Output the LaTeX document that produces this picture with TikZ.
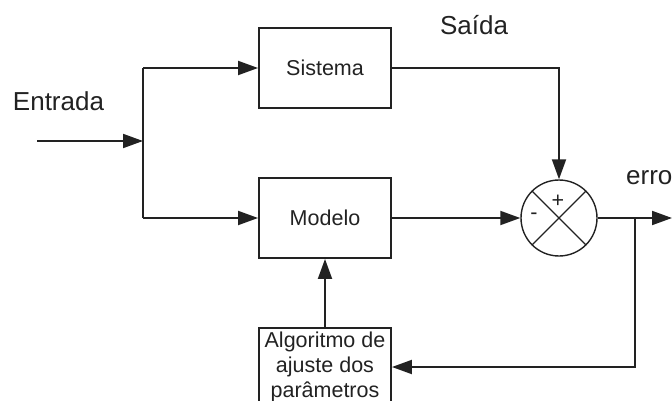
\documentclass[tikz,border=0pt]{standalone}
\usepackage{fontspec}
\setmainfont{Liberation Sans}
\usetikzlibrary{arrows.meta}
\definecolor{traco}{HTML}{222222}
\tikzset{
  bloco/.style={draw=traco, line width=1.9pt, minimum width=132pt, minimum height=80pt, inner sep=0pt, text=traco, font=\fontsize{21.5}{25}\selectfont},
  seta/.style={-{Triangle[length=20pt,width=14pt]}, draw=traco, line width=1.9pt},
  linha/.style={draw=traco, line width=1.9pt},
  rotulo/.style={inner sep=0pt, text=traco, font=\fontsize{26}{30}\selectfont},
  sinal/.style={inner sep=0pt, text=traco, font=\fontsize{21.5}{25}\selectfont}
}
\begin{document}
\begin{tikzpicture}[x=1pt,y=-1pt]
      \clip (0,0) rectangle (672,401);

      \node[bloco] (sis) at (325,68) {Sistema};
      \node[bloco] (mod) at (325,218) {Modelo};
      \node[bloco, minimum height=78pt, align=center] (alg) at (325,367) {Algoritmo de\\ajuste dos\\parâmetros};
      \node[draw=traco, circle, line width=1.4pt, minimum size=76pt, inner sep=0pt] (soma) at (559,218) {};
      \draw[draw=traco, line width=1.3pt] (soma.north west) -- (soma.south east);
      \draw[draw=traco, line width=1.3pt] (soma.north east) -- (soma.south west);
      \node[sinal] (mais) at (558,201) {+};
      \node[sinal] (menos) at (534,216) {-};

      \node[rotulo] (ent) at (58.5,101) {Entrada};
      \node[rotulo] (sai) at (474,25) {Saída};
      \node[rotulo, anchor=west] (err) at (626,178) {erro};

      \coordinate (inicio) at (37,141);
      \coordinate (jun) at (143,141);
      \coordinate (fim) at (672,218);
      \coordinate (ramo) at (635,218);

      \draw[seta] (inicio) -- (jun);
      \draw[linha] (jun |- sis.west) -- (jun |- mod.west);
      \draw[seta] (jun |- sis.west) -- (sis.west);
      \draw[seta] (jun |- mod.west) -- (mod.west);
      \draw[seta] (sis.east) -| (soma.north);
      \draw[seta] (mod.east) -- (soma.west);
      \draw[seta] (soma.east) -- (fim);
      \draw[seta] (ramo) |- (alg.east);
      \draw[seta] (alg.north) -- (mod.south);
\end{tikzpicture}
\end{document}
